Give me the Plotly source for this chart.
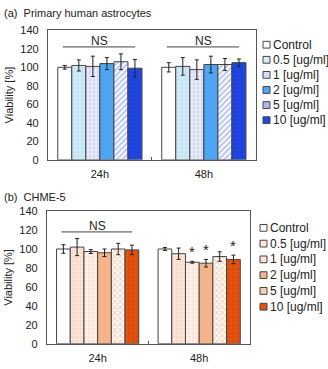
import plotly.graph_objects as go

times = ["24h", "48h"]
doses = ["Control", "0.5 [ug/ml]", "1 [ug/ml]", "2 [ug/ml]", "5 [ug/ml]", "10 [ug/ml]"]

# (a) Primary human astrocytes: [24h, 48h] per dose
astro_mean = [[100, 100], [102, 101], [101, 97.5], [104, 103], [106, 103], [99, 105]]
astro_err = [[2, 5], [6, 9.5], [11, 10.5], [6.5, 9], [8.5, 6.5], [9.5, 4]]

# (b) CHME-5
chme_mean = [[100, 100], [102, 95], [97.3, 86], [96, 85], [100, 92], [99, 89]]
chme_err = [[4.5, 1.5], [9, 6], [2, 1], [4, 4], [6, 5], [5, 4.5]]
chme_star = [[False, False], [False, False], [False, True], [False, True], [False, False], [False, True]]

TEXT = "#222222"
blue_styles = [
    dict(color="white", shape="", fg="white", key="white"),
    dict(color="#d3edf8", shape=".", fg="#a9d6ec", key="#d3edf8"),
    dict(color="#f2f2fc", shape="+", fg="#a9b2ee", key="#d6dbf6"),
    dict(color="#4ea5f4", shape="", fg="#4ea5f4", key="#4ea5f4"),
    dict(color="white", shape="/", fg="#7088ec", key="#aab7f2"),
    dict(color="#2146e6", shape=".", fg="#1a38c8", key="#2146e6"),
]
orange_styles = [
    dict(color="white", shape="", fg="white", key="white"),
    dict(color="#fde6d9", shape=".", fg="#f3cbb4", key="#fde6d9"),
    dict(color="#fff6f0", shape="+", fg="#f3c8ac", key="#fae3d4"),
    dict(color="#f5b38a", shape="", fg="#f5b38a", key="#f5b38a"),
    dict(color="white", shape="x", fg="#eea57a", key="#f6d0b8"),
    dict(color="#e8520f", shape=".", fg="#c8440a", key="#e8520f"),
]

fig = go.Figure()


def add_bars(means, errs, styles, xa, ya):
    for name, m, e, s in zip(doses, means, errs, styles):
        fig.add_trace(
            go.Bar(
                x=times,
                y=m,
                name=name,
                xaxis=xa,
                yaxis=ya,
                showlegend=False,
                marker=dict(
                    color=s["color"],
                    line=dict(color="#444444", width=1),
                    pattern=dict(shape=s["shape"], fgcolor=s["fg"], bgcolor=s["color"],
                                 size=4, solidity=0.5),
                ),
                error_y=dict(type="data", array=e, color=TEXT, thickness=1, width=2),
            )
        )


add_bars(astro_mean, astro_err, blue_styles, "x", "y")
add_bars(chme_mean, chme_err, orange_styles, "x2", "y2")

bargap = 0.19
bar_w = (1 - bargap) / len(doses)

annotations = []
shapes = []


def ns(xref, yref, gi, y_line, y_text):
    shapes.append(dict(type="line", xref=xref, yref=yref, x0=gi - 0.355, x1=gi + 0.34,
                       y0=y_line, y1=y_line, line=dict(color="#444444", width=1)))
    annotations.append(dict(x=gi, y=y_text, xref=xref, yref=yref, text="NS", showarrow=False,
                            font=dict(size=12, color=TEXT)))


ns("x", "y", 0, 122, 128.5)
ns("x", "y", 1, 122, 128.5)
ns("x2", "y2", 0, 118, 124.5)

for i, row in enumerate(chme_star):
    for gi, flag in enumerate(row):
        if flag:
            xpos = gi + (i - (len(doses) - 1) / 2) * bar_w
            annotations.append(dict(x=xpos, y=chme_mean[i][gi] + chme_err[i][gi] + 10,
                                    xref="x2", yref="y2", text="*", showarrow=False,
                                    font=dict(size=15, color=TEXT)))


# hand-made legends (small square keys, like the original)
def legend(styles, x0, y_top, step):
    W, H = 328, 369
    for k, (name, s) in enumerate(zip(doses, styles)):
        yc = y_top + k * step
        shapes.append(dict(type="rect", xref="paper", yref="paper",
                           x0=x0 / W, x1=(x0 + 7) / W,
                           y0=1 - (yc + 3.5) / H, y1=1 - (yc - 3.5) / H,
                           fillcolor=s["key"], line=dict(color="#444444", width=1)))
        annotations.append(dict(x=(x0 + 8) / W, y=1 - yc / H, xref="paper", yref="paper",
                                xanchor="left", yanchor="middle", text=name, showarrow=False,
                                font=dict(size=12, color=TEXT)))


legend(blue_styles, 263, 40, 15.6)
legend(orange_styles, 260, 229.3, 16.3)

annotations.append(dict(x=0.005, y=1 - 7 / 369, xref="paper", yref="paper", xanchor="left",
                        yanchor="middle", text="(a)  Primary human astrocytes", showarrow=False,
                        font=dict(size=11, color=TEXT)))
annotations.append(dict(x=0.005, y=1 - 197 / 369, xref="paper", yref="paper", xanchor="left",
                        yanchor="middle", text="(b)  CHME-5", showarrow=False,
                        font=dict(size=11, color=TEXT)))

xax = dict(showline=True, linecolor="#555555", linewidth=1, mirror=True, ticks="inside",
           tickson="boundaries", ticklen=3, tickcolor="#555555", showgrid=False,
           tickfont=dict(size=11, color=TEXT), range=[-0.5, 1.5], ticklabelstandoff=4)
yax = dict(showline=True, linecolor="#555555", linewidth=1, mirror=True, ticks="",
           showgrid=False, range=[0, 140], dtick=20, zeroline=False,
           tickfont=dict(size=11, color=TEXT), ticklabelstandoff=6,
           title=dict(text="Viability [%]", font=dict(size=11, color=TEXT), standoff=4))

fig.update_layout(
    width=328,
    height=369,
    margin=dict(l=0, r=0, t=0, b=0),
    paper_bgcolor="white",
    plot_bgcolor="white",
    font=dict(family="Liberation Sans, Arial, sans-serif", color=TEXT),
    barmode="group",
    bargap=bargap,
    bargroupgap=0,
    showlegend=False,
    xaxis=dict(xax, domain=[0.146, 0.78], anchor="y"),
    yaxis=dict(yax, domain=[0.569, 0.932], anchor="x"),
    xaxis2=dict(xax, domain=[0.143, 0.762], anchor="y2"),
    yaxis2=dict(yax, domain=[0.054, 0.4255], anchor="x2"),
    annotations=annotations,
    shapes=shapes,
)

# drop the browser's default body margin so the figure sits at the page corner
fig.write_html("out.html", config={"displayModeBar": False},
               post_script="document.body.style.margin = '0';")
